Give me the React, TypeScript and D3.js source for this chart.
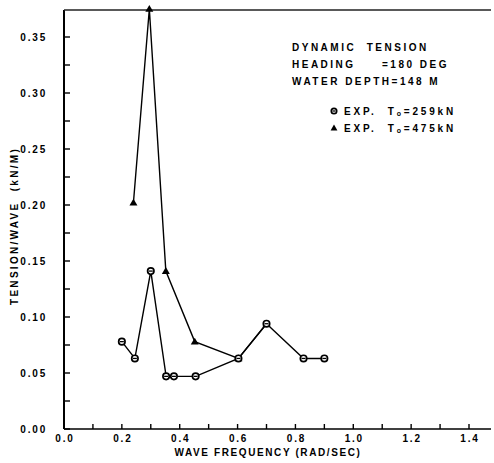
import React from "react";
import * as d3 from "d3";

// Measured dynamic tension per unit wave amplitude
const freq259 = [0.2, 0.245, 0.3, 0.353, 0.38, 0.455, 0.603, 0.7, 0.828, 0.9];
const tension259 = [0.078, 0.063, 0.141, 0.047, 0.047, 0.047, 0.063, 0.094, 0.063, 0.063];
const freq475 = [0.24, 0.295, 0.352, 0.452, 0.603, 0.7];
const tension475 = [0.202, 0.375, 0.141, 0.078, 0.063, 0.094];

const xTicks = [0, 0.2, 0.4, 0.6, 0.8, 1.0, 1.2, 1.4];
const xMinorTicks = [0.1, 0.3, 0.5, 0.7, 0.9, 1.1, 1.3];
const yTicks = [0, 0.05, 0.1, 0.15, 0.2, 0.25, 0.3, 0.35];
const yMinorTicks = [0.025, 0.075, 0.125, 0.175, 0.225, 0.275, 0.325];

const infoLines = ["DYNAMIC  TENSION", "HEADING     =180 DEG", "WATER DEPTH=148 M"];

const W = 494;
const H = 463;
const FONT = "'Liberation Sans', Arial, sans-serif";

const x = d3.scaleLinear().domain([0, 1.4]).range([64, 469]);
const y = d3.scaleLinear().domain([0, 0.35]).range([429, 37]);
const xEnd = 491;
const yTop = 10;

function CircleMark({ cx, cy, r = 3.2 }: { cx: number; cy: number; r?: number }) {
  return (
    <g>
      <circle cx={cx} cy={cy} r={r} fill="#fff" stroke="#000" strokeWidth={1.7} />
      <line x1={cx - r + 1.2} x2={cx + r - 1.2} y1={cy} y2={cy} stroke="#000" strokeWidth={1.3} />
    </g>
  );
}

function TriMark({ cx, cy, s = 4 }: { cx: number; cy: number; s?: number }) {
  return (
    <path
      d={`M${cx},${cy - s}L${cx + s},${cy + s * 0.7}L${cx - s},${cy + s * 0.7}Z`}
      fill="#000"
    />
  );
}

export default function App() {
  const pts259 = freq259.map((f, i) => [x(f), y(tension259[i])] as [number, number]);
  const pts475 = freq475.map((f, i) => [x(f), y(tension475[i])] as [number, number]);
  const line = d3.line();
  const x0 = x(0);
  const y0 = y(0);

  return (
    <svg
      width={W}
      height={H}
      style={{ position: "absolute", left: 0, top: 0, background: "#fff" }}
      fontFamily={FONT}
      fontWeight="bold"
    >
      <rect width={W} height={H} fill="#fff" />
      {/* frame */}
      <line x1={x0} x2={x0} y1={y0} y2={yTop} stroke="#000" strokeWidth={2} />
      <line x1={x0} x2={xEnd} y1={yTop} y2={yTop} stroke="#222" strokeWidth={1.5} />
      <line x1={x0} x2={xEnd} y1={y0} y2={y0} stroke="#000" strokeWidth={1.6} />

      {/* y axis ticks */}
      {yTicks.concat(yMinorTicks).map((t) => (
        <line key={"yt" + t} x1={x0} x2={x0 + 6} y1={y(t)} y2={y(t)} stroke="#000" strokeWidth={1.4} />
      ))}
      {yTicks.map((t) => (
        <text
          key={"yl" + t}
          x={47}
          y={y(t)}
          textAnchor="end"
          dominantBaseline="central"
          fontSize={10}
          letterSpacing={1.8}
        >
          {d3.format(".2f")(t)}
        </text>
      ))}

      {/* x axis ticks */}
      {xTicks.concat(xMinorTicks).map((t) => (
        <line key={"xt" + t} x1={x(t)} x2={x(t)} y1={y0} y2={y0 - 5} stroke="#000" strokeWidth={1.4} />
      ))}
      {xTicks.map((t) => (
        <text
          key={"xl" + t}
          x={x(t) + 1}
          y={438}
          textAnchor="middle"
          dominantBaseline="central"
          fontSize={10}
          letterSpacing={1.8}
        >
          {d3.format(".1f")(t)}
        </text>
      ))}

      {/* axis titles */}
      <text x={268} y={452} textAnchor="middle" dominantBaseline="central" fontSize={10} letterSpacing={1.6}>
        WAVE FREQUENCY (RAD/SEC)
      </text>
      <text
        transform={`translate(14,226) rotate(-90)`}
        textAnchor="middle"
        dominantBaseline="central"
        fontSize={10}
        letterSpacing={2.3}
        style={{ whiteSpace: "pre" }}
      >
        TENSION/WAVE  (kN/M)
      </text>

      {/* series */}
      <path d={line(pts475) || ""} fill="none" stroke="#000" strokeWidth={1.4} />
      <path d={line(pts259) || ""} fill="none" stroke="#000" strokeWidth={1.4} />
      {pts475.map(([px, py], i) => (
        <TriMark key={"t" + i} cx={px} cy={py} />
      ))}
      {pts259.map(([px, py], i) => (
        <CircleMark key={"c" + i} cx={px} cy={py} />
      ))}

      {/* annotation */}
      {infoLines.map((s, i) => (
        <text
          key={"info" + i}
          x={292}
          y={47 + i * 17.3}
          dominantBaseline="central"
          fontSize={10}
          letterSpacing={2.5}
          style={{ whiteSpace: "pre" }}
        >
          {s}
        </text>
      ))}

      {/* legend */}
      <CircleMark cx={334} cy={111} r={2.7} />
      <text x={344} y={111} dominantBaseline="central" fontSize={10} letterSpacing={2.8} style={{ whiteSpace: "pre" }}>
        {"EXP.  T"}
        <tspan fontSize={7} dy={2}>o</tspan>
        <tspan dy={-2}>=259kN</tspan>
      </text>
      <TriMark cx={334} cy={128} s={3.4} />
      <text x={344} y={128} dominantBaseline="central" fontSize={10} letterSpacing={2.8} style={{ whiteSpace: "pre" }}>
        {"EXP.  T"}
        <tspan fontSize={7} dy={2}>o</tspan>
        <tspan dy={-2}>=475kN</tspan>
      </text>
    </svg>
  );
}
